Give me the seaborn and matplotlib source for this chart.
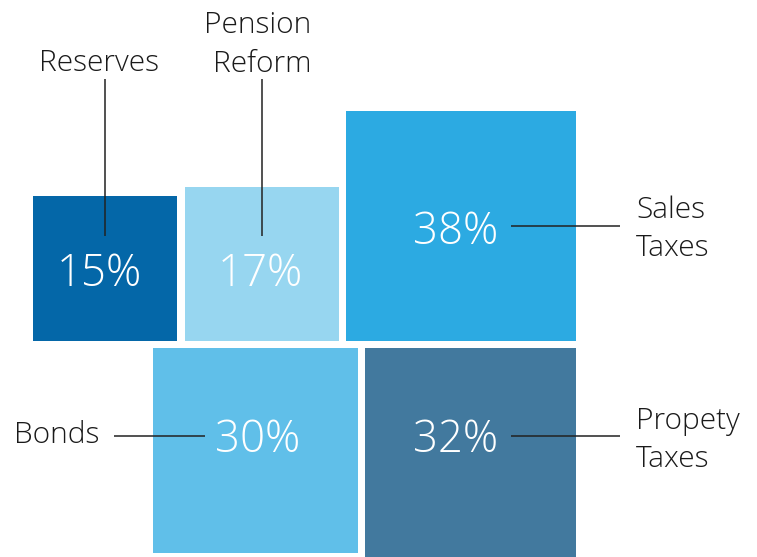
import numpy as np
import pandas as pd
import seaborn as sns
import matplotlib
matplotlib.use("Agg")
import matplotlib.pyplot as plt

# ---- data ----
categories = ["Reserves", "Pension\nReform", "Sales\nTaxes", "Bonds", "Propety\nTaxes"]
shares = [15, 17, 38, 30, 32]
row_of = [0, 0, 0, 1, 1]
colors = ["#0467A8", "#97D6F0", "#2CAAE2", "#60BFE9", "#42799E"]

# ---- layout (pixel units, axes inverted in y) ----
W, H = 757, 557
unit = 37.3          # pixels per sqrt(percent): square area ~ share
gap = 7.5
x_start = 33.0
baseline = 340.7

df = pd.DataFrame({"cat": categories, "share": shares, "row": row_of, "color": colors})
df["side"] = unit * np.sqrt(df["share"])

top = df[df.row == 0].copy()
top["x"] = x_start + np.concatenate([[0], np.cumsum(top["side"].values[:-1] + gap)])
top["y"] = baseline - top["side"]
right_edge = (top["x"] + top["side"]).max()
bot = df[df.row == 1].copy()
rev = bot["side"].values[::-1]
rights = right_edge - np.concatenate([[0], np.cumsum(rev[:-1] + gap)])
bot["x"] = (rights - rev)[::-1]
bot["y"] = baseline + gap
layout = pd.concat([top, bot])

sns.set_theme(style="white")
plt.rcParams["font.family"] = ["Open Sans", "DejaVu Sans"]

fig = plt.figure(figsize=(W / 100, H / 100), dpi=100)
ax = fig.add_axes([0, 0, 1, 1])
ax.set_xlim(0, W)
ax.set_ylim(H, 0)
ax.axis("off")

ax.bar(layout["x"], layout["side"], width=layout["side"], bottom=layout["y"],
       align="edge", color=layout["color"], linewidth=0)

# percentage labels: (center x, baseline y)
pct_pos = {"Reserves": (99, 286), "Pension\nReform": (260, 286), "Sales\nTaxes": (456, 244),
           "Bonds": (258, 452), "Propety\nTaxes": (456, 452)}
for cat, s in zip(categories, shares):
    px, py = pct_pos[cat]
    ax.text(px, py, f"{s}%", color="white", fontsize=31.5, fontweight=300,
            ha="center", va="baseline")

# category labels: (x, first-line baseline y, alignment) and leader lines
line_kw = dict(color="#222222", lw=1.1, solid_capstyle="butt")
lab_kw = dict(color="#1a1a1a", fontsize=21.5, fontweight=300, va="baseline")
pitch = 38.5
lab_pos = {"Reserves": (98.5, 71, "center"), "Pension\nReform": (311, 33, "right"),
           "Sales\nTaxes": (636, 218, "left"), "Bonds": (14, 443, "left"),
           "Propety\nTaxes": (636, 428.5, "left")}
for cat in categories:
    lx, ly, ha = lab_pos[cat]
    for i, part in enumerate(cat.split("\n")):
        ax.text(lx, ly + i * pitch, part, ha=ha, **lab_kw)

ax.plot([105, 105], [79, 236], **line_kw)
ax.plot([262, 262], [79, 236], **line_kw)
ax.plot([511, 620], [226, 226], **line_kw)
ax.plot([114, 205], [436, 436], **line_kw)
ax.plot([511, 620], [436, 436], **line_kw)

fig.savefig("out.png", dpi=100, facecolor="white")
